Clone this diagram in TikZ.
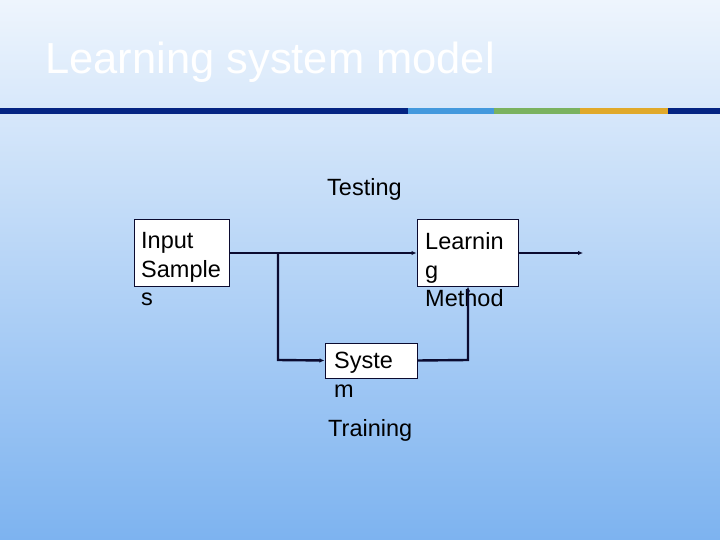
\documentclass[tikz,border=0pt]{standalone}
\usepackage{fontspec}
\setmainfont{Liberation Sans}
\usetikzlibrary{arrows.meta}
\definecolor{Ink}{HTML}{0B0B30}
\definecolor{SkyTop}{HTML}{EEF5FD}
\definecolor{SkyBot}{HTML}{7DB3F0}
\definecolor{BarNavy}{HTML}{042482}
\definecolor{BarBlue}{HTML}{4399DD}
\definecolor{BarGreen}{HTML}{7AB25F}
\definecolor{BarGold}{HTML}{E0A92A}

\begin{document}
\begin{tikzpicture}[x=1pt, y=-1pt,
    box/.style={draw=Ink, line width=1pt, fill=white, inner sep=0pt},
    txt/.style={anchor=north west, inner sep=0pt, align=left, text=black,
      font=\fontsize{23.5}{28.5}\selectfont},
    wire/.style={draw=Ink, line width=2.4pt},
    tip/.style={-{Latex[length=5pt, width=4.5pt]}}]
  \useasboundingbox (0,0) rectangle (720,540);
  \shade[top color=SkyTop, bottom color=SkyBot] (0,0) rectangle (720,540);

  % title and coloured bar
  \node[anchor=base west, inner sep=0pt, text=white, font=\fontsize{43.5}{50}\selectfont] (title) at (45,74) {Learning system model};
  \fill[BarNavy] (0,108) rectangle (408,114);
  \fill[BarBlue] (408,108) rectangle (494,114);
  \fill[BarGreen] (494,108) rectangle (580,114);
  \fill[BarGold] (580,108) rectangle (668,114);
  \fill[BarNavy] (668,108) rectangle (720,114);

  % boxes
  \node[box, minimum width=95pt, minimum height=66pt] (inp) at (181.5,253) {};
  \node[box, minimum width=101pt, minimum height=66pt] (lrn) at (467.5,253) {};
  \node[box, minimum width=92pt, minimum height=35pt] (sys) at (371,360.5) {};

  % texts
  \node[txt] (inptxt) at (141,232.5) {Input\\Sample\\s};
  \node[txt] (lrntxt) at (425,232.5) {Learnin\\g\\Method};
  \node[txt] (systxt) at (334,352) {Syste\\m};
  \node[txt] (test) at (327,178.5) {Testing};
  \node[txt] (train) at (328,419) {Training};

  % connectors
  \coordinate (split) at (278,253);
  \coordinate (down) at (278,360);
  \coordinate (back) at (468,360);
  \coordinate (out) at (583,253);
  \draw[wire] (inp.east) -- (split);
  \draw[wire, tip] (split) -- (lrn.west);
  \draw[wire, tip] (split) -- (down) -- (sys.west);
  \draw[wire, tip] (sys.east) -- (back) -- (lrn.south -| back);
  \draw[wire, tip] (lrn.east) -- (out);
\end{tikzpicture}
\end{document}
